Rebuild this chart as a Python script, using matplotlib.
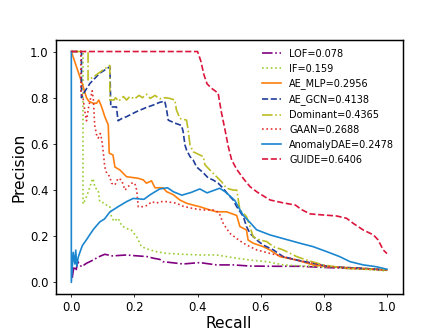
import matplotlib
matplotlib.use("Agg")
import matplotlib.pyplot as plt

lof_r = [0.003, 0.008, 0.015, 0.02, 0.032, 0.048, 0.069, 0.085, 0.106, 0.13, 0.175, 0.2, 0.24, 0.26, 0.28, 0.29, 0.323, 0.354, 0.407, 0.46, 0.513, 0.566, 0.65, 0.724, 0.8, 0.9, 1.0]
lof_p = [0.02, 0.07, 0.05, 0.09, 0.068, 0.083, 0.097, 0.11, 0.122, 0.115, 0.119, 0.116, 0.112, 0.105, 0.10, 0.09, 0.085, 0.08, 0.086, 0.076, 0.076, 0.071, 0.07, 0.07, 0.065, 0.06, 0.054]

if_r = [0, 0.037, 0.037, 0.045, 0.053, 0.065, 0.069, 0.075, 0.085, 0.09, 0.106, 0.115, 0.122, 0.127, 0.135, 0.148, 0.16, 0.175, 0.19, 0.207, 0.222, 0.249, 0.27, 0.302, 0.354, 0.407, 0.46, 0.492, 0.524, 0.566, 0.619, 0.671, 0.75, 0.85, 1.0]
if_p = [1.0, 1.0, 0.34, 0.36, 0.39, 0.44, 0.45, 0.41, 0.40, 0.35, 0.343, 0.33, 0.328, 0.285, 0.265, 0.278, 0.245, 0.234, 0.227, 0.198, 0.155, 0.141, 0.133, 0.126, 0.122, 0.119, 0.119, 0.112, 0.105, 0.097, 0.09, 0.076, 0.07, 0.065, 0.05]

mlp_r = [0, 0.037, 0.048, 0.055, 0.069, 0.08, 0.087, 0.096, 0.106, 0.117, 0.12, 0.132, 0.138, 0.154, 0.164, 0.175, 0.212, 0.228, 0.238, 0.254, 0.265, 0.29, 0.302, 0.323, 0.344, 0.365, 0.386, 0.407, 0.439, 0.46, 0.492, 0.524, 0.534, 0.555, 0.56, 0.576, 0.608, 0.629, 0.661, 0.714, 0.766, 0.819, 0.925, 1.0]
mlp_p = [1.0, 0.85, 0.80, 0.785, 0.776, 0.776, 0.79, 0.76, 0.718, 0.682, 0.56, 0.552, 0.50, 0.487, 0.473, 0.458, 0.451, 0.444, 0.43, 0.44, 0.41, 0.41, 0.393, 0.38, 0.357, 0.343, 0.335, 0.328, 0.314, 0.306, 0.306, 0.29, 0.242, 0.227, 0.184, 0.17, 0.155, 0.141, 0.112, 0.097, 0.076, 0.068, 0.061, 0.054]

gcn_r = [0, 0.032, 0.032, 0.037, 0.059, 0.09, 0.122, 0.125, 0.143, 0.148, 0.16, 0.175, 0.207, 0.238, 0.259, 0.28, 0.296, 0.302, 0.307, 0.328, 0.349, 0.354, 0.36, 0.365, 0.376, 0.386, 0.397, 0.418, 0.434, 0.449, 0.465, 0.481, 0.497, 0.513, 0.524, 0.545, 0.555, 0.566, 0.587, 0.608, 0.64, 0.671, 0.714, 0.766, 0.819, 0.925, 1.0]
gcn_p = [1.0, 1.0, 0.80, 0.815, 0.862, 0.906, 0.934, 0.76, 0.76, 0.70, 0.71, 0.718, 0.74, 0.758, 0.768, 0.78, 0.785, 0.747, 0.703, 0.69, 0.68, 0.655, 0.595, 0.574, 0.545, 0.53, 0.50, 0.475, 0.452, 0.444, 0.43, 0.408, 0.38, 0.357, 0.328, 0.285, 0.242, 0.213, 0.184, 0.162, 0.141, 0.112, 0.097, 0.083, 0.068, 0.061, 0.054]

dom_r = [0, 0.053, 0.053, 0.07, 0.09, 0.105, 0.122, 0.122, 0.135, 0.14, 0.15, 0.165, 0.175, 0.185, 0.2, 0.215, 0.225, 0.238, 0.25, 0.265, 0.28, 0.296, 0.312, 0.328, 0.333, 0.344, 0.365, 0.37, 0.376, 0.386, 0.407, 0.418, 0.423, 0.439, 0.449, 0.46, 0.476, 0.492, 0.513, 0.524, 0.529, 0.534, 0.545, 0.555, 0.566, 0.576, 0.597, 0.619, 0.64, 0.671, 0.714, 0.745, 0.798, 0.87, 1.0]
dom_p = [1.0, 1.0, 0.877, 0.89, 0.91, 0.925, 0.94, 0.79, 0.79, 0.80, 0.785, 0.805, 0.79, 0.805, 0.795, 0.81, 0.80, 0.815, 0.797, 0.81, 0.795, 0.80, 0.797, 0.79, 0.747, 0.71, 0.703, 0.66, 0.595, 0.566, 0.552, 0.545, 0.51, 0.487, 0.473, 0.458, 0.436, 0.408, 0.40, 0.40, 0.357, 0.314, 0.30, 0.285, 0.242, 0.198, 0.184, 0.177, 0.155, 0.141, 0.112, 0.097, 0.076, 0.061, 0.054]

gaan_r = [0, 0.03, 0.03, 0.037, 0.043, 0.048, 0.055, 0.066, 0.07, 0.074, 0.08, 0.085, 0.092, 0.096, 0.1, 0.106, 0.112, 0.122, 0.127, 0.138, 0.148, 0.159, 0.17, 0.18, 0.191, 0.201, 0.207, 0.212, 0.228, 0.243, 0.254, 0.27, 0.28, 0.302, 0.333, 0.354, 0.386, 0.418, 0.449, 0.465, 0.471, 0.481, 0.502, 0.524, 0.545, 0.566, 0.587, 0.629, 0.671, 0.714, 0.766, 0.819, 0.9, 1.0]
gaan_p = [1.0, 1.0, 0.83, 0.80, 0.74, 0.70, 0.76, 0.83, 0.79, 0.68, 0.64, 0.625, 0.645, 0.62, 0.58, 0.50, 0.473, 0.458, 0.43, 0.422, 0.451, 0.444, 0.40, 0.415, 0.43, 0.43, 0.40, 0.328, 0.328, 0.335, 0.35, 0.343, 0.35, 0.35, 0.343, 0.33, 0.32, 0.314, 0.314, 0.305, 0.292, 0.256, 0.213, 0.19, 0.17, 0.155, 0.141, 0.126, 0.112, 0.097, 0.083, 0.068, 0.06, 0.054]

dae_r = [0, 0, 0.006, 0.011, 0.014, 0.017, 0.022, 0.027, 0.035, 0.048, 0.06, 0.07, 0.09, 0.105, 0.122, 0.148, 0.175, 0.196, 0.23, 0.25, 0.28, 0.305, 0.323, 0.35, 0.38, 0.407, 0.43, 0.47, 0.487, 0.502, 0.518, 0.53, 0.545, 0.566, 0.587, 0.629, 0.671, 0.724, 0.766, 0.81, 0.85, 0.883, 0.925, 0.967, 1.0]
dae_p = [1.0, 0.0, 0.13, 0.08, 0.14, 0.07, 0.11, 0.13, 0.16, 0.185, 0.21, 0.23, 0.262, 0.275, 0.305, 0.328, 0.35, 0.364, 0.36, 0.38, 0.405, 0.41, 0.393, 0.378, 0.39, 0.405, 0.388, 0.408, 0.393, 0.375, 0.355, 0.325, 0.29, 0.26, 0.228, 0.206, 0.19, 0.17, 0.155, 0.133, 0.112, 0.09, 0.076, 0.068, 0.057]

guide_r = [0, 0.40, 0.41, 0.42, 0.43, 0.445, 0.465, 0.475, 0.487, 0.497, 0.508, 0.524, 0.545, 0.566, 0.587, 0.608, 0.63, 0.67, 0.71, 0.73, 0.756, 0.80, 0.84, 0.872, 0.893, 0.925, 0.957, 0.972, 0.988, 1.0]
guide_p = [1.0, 1.0, 0.96, 0.90, 0.86, 0.84, 0.82, 0.74, 0.66, 0.59, 0.53, 0.49, 0.45, 0.415, 0.393, 0.375, 0.357, 0.345, 0.335, 0.315, 0.297, 0.292, 0.288, 0.278, 0.256, 0.227, 0.206, 0.184, 0.141, 0.125]

labels = ["LOF=0.078", "IF=0.159", "AE_MLP=0.2956", "AE_GCN=0.4138",
          "Dominant=0.4365", "GAAN=0.2688", "AnomalyDAE=0.2478", "GUIDE=0.6406"]

fig, ax = plt.subplots(figsize=(6.4, 4.8), dpi=70)
fig.subplots_adjust(left=0.124, right=0.899, bottom=0.125, top=0.881)
lw = 1.7
ax.plot(lof_r, lof_p, '-.', color='purple', lw=lw, label=labels[0])
ax.plot(if_r, if_p, ':', color='yellowgreen', lw=lw, label=labels[1])
ax.plot(mlp_r, mlp_p, '-', color='#ff7f0e', lw=lw, label=labels[2])
ax.plot(gcn_r, gcn_p, '--', color='#1f3c99', lw=lw, label=labels[3])
ax.plot(dom_r, dom_p, '-.', color='#bcbd22', lw=lw, label=labels[4])
ax.plot(gaan_r, gaan_p, ':', color='#e03030', lw=lw, label=labels[5])
ax.plot(dae_r, dae_p, '-', color='#1a86d0', lw=lw, label=labels[6])
ax.plot(guide_r, guide_p, '--', color='crimson', lw=lw, label=labels[7])

ax.set_xlabel("Recall", fontsize=16, labelpad=2)
ax.set_ylabel("Precision", fontsize=16)
ax.tick_params(labelsize=12)
for s in ax.spines.values():
    s.set_linewidth(1.5)
ax.set_xticks([0.0, 0.2, 0.4, 0.6, 0.8, 1.0])
ax.set_yticks([0.0, 0.2, 0.4, 0.6, 0.8, 1.0])
ax.legend(loc='upper right', fontsize=10, frameon=False)
fig.savefig("out.png", dpi=70)
